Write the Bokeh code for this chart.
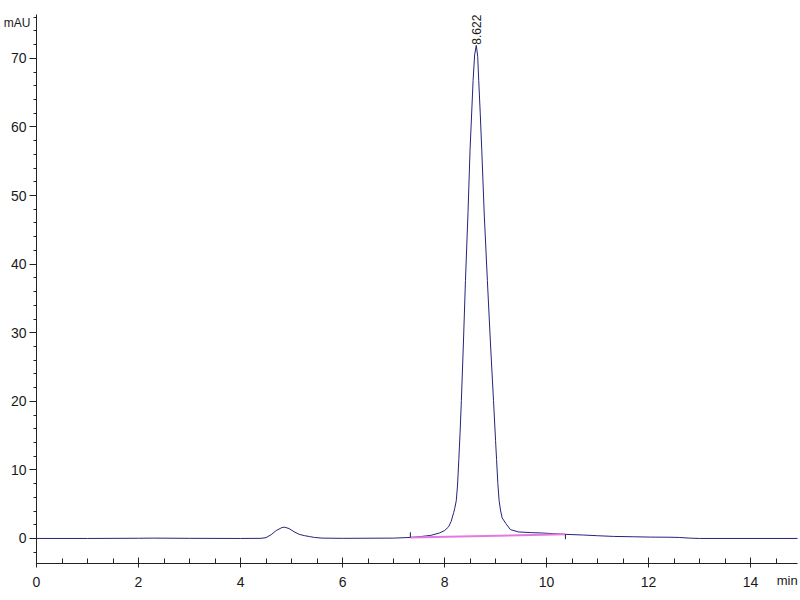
import math
from bokeh.plotting import figure
from bokeh.models import FixedTicker, Label, Range1d, LinearAxis
from bokeh.embed import file_html
from bokeh.resources import INLINE

# ---- data ----
time_min = [0.0, 1.0, 2.0, 2.3, 3.0, 4.0,
            4.4, 4.5, 4.6, 4.7, 4.8, 4.86, 4.95, 5.05, 5.15, 5.25, 5.35, 5.45, 5.6, 6.0,
            7.0, 7.33, 7.5, 7.73, 7.9, 8.0, 8.08, 8.13, 8.18, 8.2, 8.23, 8.255,
            8.28, 8.305, 8.33, 8.37, 8.41, 8.46, 8.50, 8.56, 8.59, 8.622, 8.65,
            8.67, 8.70, 8.73, 8.78, 8.84, 8.90, 8.96, 9.0, 9.02, 9.045, 9.07, 9.1, 9.13,
            9.20, 9.29, 9.45, 9.7, 9.9, 10.14, 10.37, 10.73, 11.0, 11.31,
            11.7, 12.04, 12.4, 12.6, 12.8, 13.0, 15.0]
signal_mau = [0.0, 0.0, 0.03, 0.05, 0.02, 0.0,
              0.02, 0.12, 0.55, 1.15, 1.55, 1.65, 1.45, 0.98, 0.6, 0.42, 0.28, 0.15, 0.05, 0.02,
              0.05, 0.15, 0.25, 0.45, 0.8, 1.15, 1.7, 2.5, 3.8, 4.4, 5.5, 7.8,
              11.5, 15.5, 20.1, 28.5, 37.6, 47.5, 56.6, 66.8, 70.5, 71.9, 70.3,
              66.8, 62.0, 56.6, 47.0, 37.6, 28.5, 20.1, 14.3, 11.5, 8.0, 5.5, 4.0, 3.0,
              2.2, 1.3, 0.95, 0.85, 0.8, 0.7, 0.6, 0.5, 0.4, 0.3,
              0.25, 0.2, 0.18, 0.15, 0.05, 0.0, 0.0]

baseline_t = [7.33, 10.37]
baseline_y = [0.15, 0.6]

peak_rt = 8.622
peak_height = 71.9
peak_label = "8.622"

x_ticks = [0, 2, 4, 6, 8, 10, 12, 14]
y_ticks = [0, 10, 20, 30, 40, 50, 60, 70]
y_unit = "mAU"
x_unit = "min"

FONT = "Liberation Sans"
TXT = "#1a1a1a"

p = figure(width=798, height=598, output_backend="svg", toolbar_location=None,
           x_range=Range1d(0, 14.92), y_range=Range1d(-3.65, 76.4),
           min_border_left=36, min_border_top=14, min_border_right=1, min_border_bottom=35)
p.outline_line_color = None
p.xgrid.visible = False
p.ygrid.visible = False
p.background_fill_color = "white"

# trace
p.line(time_min, signal_mau, line_color="#24247a", line_width=1)
# integration baseline
p.line(baseline_t, baseline_y, line_color="#e27ae2", line_width=2)
p.segment(x0=[baseline_t[0], baseline_t[1]], y0=[baseline_y[0], baseline_y[1] - 0.7],
          x1=[baseline_t[0], baseline_t[1]], y1=[baseline_y[0] + 0.75, baseline_y[1]],
          line_color="#202020", line_width=1)

# axes
xa = p.xaxis[0]
xa.ticker = FixedTicker(ticks=x_ticks, minor_ticks=[i * 0.5 for i in range(0, 30)])
xa.major_tick_in = 6
xa.major_tick_out = 4
xa.minor_tick_in = 5
xa.minor_tick_out = 0
xa.major_label_standoff = 9

ya = p.yaxis[0]
ya.ticker = FixedTicker(ticks=y_ticks, minor_ticks=[i * 2 for i in range(-1, 39)])
ya.major_tick_in = 0
ya.major_tick_out = 7
ya.minor_tick_in = 0
ya.minor_tick_out = 3
ya.major_label_standoff = 3

for ax in (xa, ya):
    ax.axis_line_color = "#222222"
    ax.major_tick_line_color = "#222222"
    ax.minor_tick_line_color = "#222222"
    ax.major_label_text_font = FONT
    ax.major_label_text_font_size = "14px"
    ax.major_label_text_color = TXT


def unit_axis(pos, text, size, standoff):
    ax = LinearAxis(ticker=FixedTicker(ticks=[pos], minor_ticks=[]),
                    major_label_overrides={pos: text},
                    axis_line_color=None, major_tick_line_color=None,
                    minor_tick_line_color=None,
                    major_tick_in=0, major_tick_out=0, minor_tick_in=0, minor_tick_out=0,
                    major_label_standoff=standoff,
                    major_label_text_font=FONT, major_label_text_font_size=size,
                    major_label_text_color=TXT)
    return ax


# unit labels placed as single-tick guide axes
p.add_layout(unit_axis(75.1, y_unit, "12px", -23), "left")
p.add_layout(unit_axis(14.75, x_unit, "13px", -17), "below")

# peak annotation
p.add_layout(Label(x=peak_rt, y=peak_height + 0.1, text=peak_label, angle=math.pi / 2,
                   text_font=FONT, text_font_size="12px",
                   text_align="left", text_baseline="middle", text_color=TXT))

open("out.html", "w").write(file_html(p, INLINE))
